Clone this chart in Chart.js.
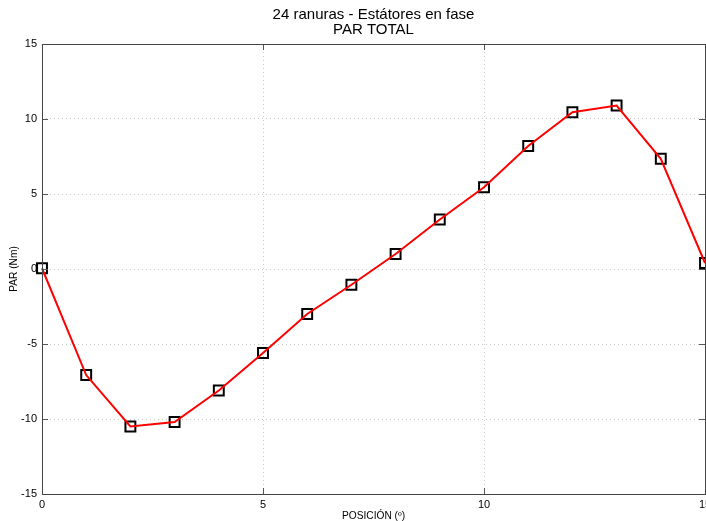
<!DOCTYPE html>
<html><head><meta charset="utf-8">
<script src="https://cdn.jsdelivr.net/npm/chart.js@4/dist/chart.umd.min.js"></script>
<style>html,body{margin:0;padding:0;background:#fff;overflow:hidden}#wrap{width:706px;height:521px;overflow:hidden}</style>
</head><body><div id="wrap"><canvas id="c" width="706" height="524"></canvas></div>
<script>
const positions = [0,1,2,3,4,5,6,7,8,9,10,11,12,13,14,15];
const torque = [0.05,-7.07,-10.5,-10.2,-8.1,-5.6,-3.0,-1.05,1.0,3.3,5.45,8.2,10.45,10.9,7.35,0.4];
const xTicks = [0,5,10,15];
const yTicks = [-15,-10,-5,0,5,10,15];
const titleLines = ['24 ranuras - Estátores en fase','PAR TOTAL'];
const xTitle = 'POSICIÓN (º)';
const yTitle = 'PAR (Nm)';

const pts = positions.map((x,i)=>({x:x,y:torque[i]}));
const FONT = "'Liberation Sans', Arial, Helvetica, sans-serif";

const innerTicks = {
  id:'innerTicks',
  afterDatasetsDraw(chart){
    const {ctx, chartArea:a, scales:{x,y}} = chart;
    ctx.save();
    ctx.strokeStyle='#555'; ctx.lineWidth=1;
    ctx.beginPath();
    xTicks.forEach(v=>{const px=Math.round(x.getPixelForValue(v))+0.5;
      ctx.moveTo(px,a.bottom);ctx.lineTo(px,a.bottom-6);ctx.moveTo(px,a.top);ctx.lineTo(px,a.top+6);});
    yTicks.forEach(v=>{const py=Math.round(y.getPixelForValue(v))+0.5;
      ctx.moveTo(a.left,py);ctx.lineTo(a.left+6,py);ctx.moveTo(a.right,py);ctx.lineTo(a.right-6,py);});
    ctx.stroke();
    ctx.strokeStyle='#444';
    ctx.strokeRect(Math.round(a.left)+0.5,Math.round(a.top)+0.5,Math.round(a.right-a.left),Math.round(a.bottom-a.top));
    ctx.restore();
  }
};

new Chart(document.getElementById('c'),{
  type:'scatter',
  data:{datasets:[
    {data:pts, showLine:true, borderColor:'#ff0000', borderWidth:2, pointRadius:0, pointHoverRadius:0, order:1, clip:false, tension:0},
    {data:pts, showLine:false, pointStyle:'rect', pointRadius:7, pointHoverRadius:7, pointBorderColor:'#000', pointBackgroundColor:'rgba(0,0,0,0)', pointBorderWidth:2, order:2, clip:false}
  ]},
  options:{
    responsive:false, animation:false,
    layout:{autoPadding:false, padding:{left:8,right:1,top:7.5,bottom:0}},
    plugins:{legend:{display:false}, tooltip:{enabled:false},
      title:{display:true, fullSize:false, text:titleLines, color:'#000', font:{family:FONT,size:15,weight:'normal',lineHeight:1.0}, padding:{top:0,bottom:6.5}}},
    scales:{
      x:{type:'linear', min:0, max:15,
        afterBuildTicks(s){s.ticks=xTicks.map(v=>({value:v}));},
        afterFit(s){s.paddingRight=0;s.paddingLeft=0;s.height=30;},
        ticks:{color:'#000', font:{family:FONT,size:11,lineHeight:1}, padding:5, maxRotation:0},
        grid:{color:'#c8c8c8', lineWidth:1, drawTicks:false, tickLength:0},
        border:{display:false, dash:[1,3]},
        title:{display:true, text:xTitle, color:'#000', font:{family:FONT,size:10.2,lineHeight:1}, padding:{top:0,bottom:3}}
      },
      y:{type:'linear', min:-15, max:15,
        afterBuildTicks(s){s.ticks=yTicks.map(v=>({value:v}));},
        afterFit(s){s.width=34;},
        ticks:{color:'#000', font:{family:FONT,size:11}, padding:5},
        grid:{color:'#c8c8c8', lineWidth:1, drawTicks:false, tickLength:0},
        border:{display:false, dash:[1,3]},
        title:{display:true, text:yTitle, color:'#000', font:{family:FONT,size:10.2}, padding:{top:0,bottom:4}}
      }
    }
  },
  plugins:[innerTicks]
});
</script></body></html>
